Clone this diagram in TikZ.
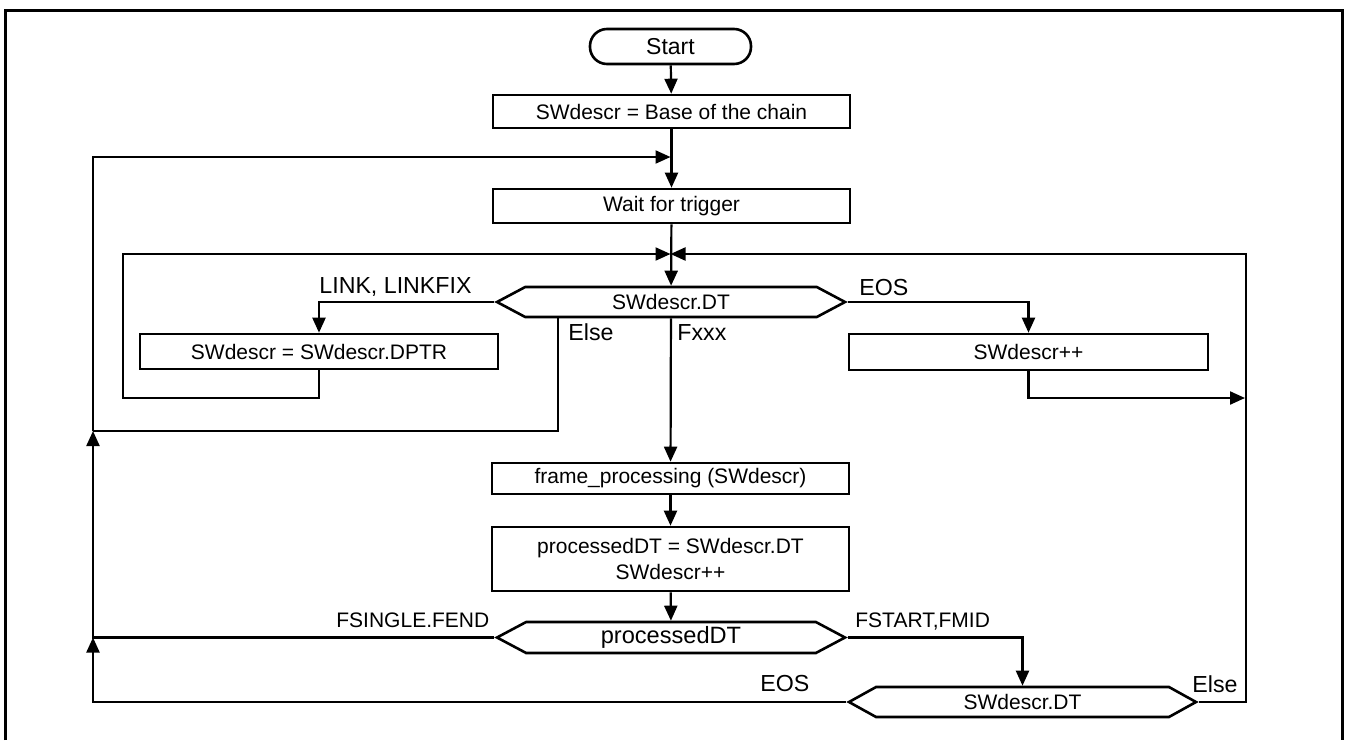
\documentclass[tikz,border=0pt]{standalone}
\usepackage{fontspec}
\setmainfont{Liberation Sans}
\usetikzlibrary{arrows.meta,positioning,shapes.symbols}
\tikzset{
  arr/.style={-{Triangle[length=7.5pt,width=6.5pt]},line width=1.1pt},
  thinln/.style={line width=0.6pt},
  procbox/.style={draw,line width=1.3pt,minimum width=178.5pt,minimum height=17pt,inner sep=1pt,align=center,font=\fontsize{10.5}{13}\selectfont},
  hexbox/.style={draw,line width=1.3pt,signal,signal to=west and east,signal pointer angle=56,minimum width=174pt,minimum height=15pt,inner sep=1pt,font=\fontsize{10.5}{13}\selectfont},
  lbl/.style={inner sep=0pt,anchor=base west,font=\fontsize{11.6}{13}\selectfont}
}
\begin{document}
\begin{tikzpicture}[x=0.5pt,y=-0.5pt]
\useasboundingbox (0,0) rectangle (1345,740);
\draw[line width=1.5pt] (5,740) |- (1342,10) -- (1342,740);
% main column
\node[procbox,rounded corners=8.5pt,minimum width=80.5pt,minimum height=17.5pt,font=\fontsize{11.5}{13}\selectfont] (start) at (670.5,46.5) {Start};
\node[procbox,minimum height=16.5pt] (base) at (671.5,111.5) {SWdescr = Base of the chain};
\node[procbox] (wait) at (671.5,206) {Wait for trigger};
\node[hexbox] (dt) at (671,302) {SWdescr.DT};
\node[procbox,minimum width=179pt,minimum height=17.5pt] (dptr) at (319,351.5) {SWdescr = SWdescr.DPTR};
\node[procbox,minimum width=179.5pt,minimum height=18pt] (incr) at (1028.5,352) {SWdescr++};
\node[procbox,minimum height=15.5pt] (frame) at (670.5,478.5) {frame\_processing (SWdescr)};
\node[procbox,minimum height=32pt] (pdt) at (670.5,559) {processedDT = SWdescr.DT\\SWdescr++};
\node[hexbox,minimum height=15.5pt,font=\fontsize{11.8}{13}\selectfont] (pdtsw) at (671,637.5) {processedDT};
\node[hexbox,minimum width=173.5pt,signal pointer angle=58] (dt2) at (1022.5,702) {SWdescr.DT};
% junctions
\coordinate (tl) at (670.5,157);
\coordinate (jn) at (670.5,254);
\coordinate (rj) at (1246,254);
\coordinate (ri) at (1245,398);
\coordinate (il) at (123,398);
\coordinate (elb) at (558,431);
\coordinate (lj) at (93,431);
\coordinate (fj) at (pdtsw.west -| lj);
% connectors
\draw[arr] (start) -- (base);
\draw[arr] (base) -- (wait);
\draw[arr] (wait) -- (dt);
\draw[arr] (dt.west) -| (dptr.north);
\draw[arr] (dt.east) -| (incr.north);
\draw[arr] (dptr.south) |- (il) |- (jn);
\draw[arr] (incr.south) |- (ri);
\draw[arr] (dt) -- (frame);
\draw[thinln] (dt.south -| elb) -- (elb) -- (lj);
\draw[arr] (frame) -- (pdt);
\draw[arr] (pdt) -- (pdtsw);
\draw[arr] (pdtsw.east) -| (dt2.north);
\draw[arr] (pdtsw.west) -| (lj);
\draw[arr] (dt2.west) -| (fj);
\draw[arr] (dt2.east) -| (rj) -- (jn);
\draw[arr] (lj) |- (tl);
% labels
\node[lbl] (lnk) at (319,293) {LINK, LINKFIX};
\node[lbl] (eos1) at (859,295) {EOS};
\node[lbl] (else1) at (568,340) {Else};
\node[lbl] (fxxx) at (677,340) {Fxxx};
\node[lbl,font=\fontsize{10.5}{13}\selectfont] (fsgl) at (336,627) {FSINGLE.FEND};
\node[lbl,font=\fontsize{10.5}{13}\selectfont] (fstr) at (855,627) {FSTART,FMID};
\node[lbl] (eos2) at (760,691) {EOS};
\node[lbl] (else2) at (1192,692) {Else};
\end{tikzpicture}
\end{document}
